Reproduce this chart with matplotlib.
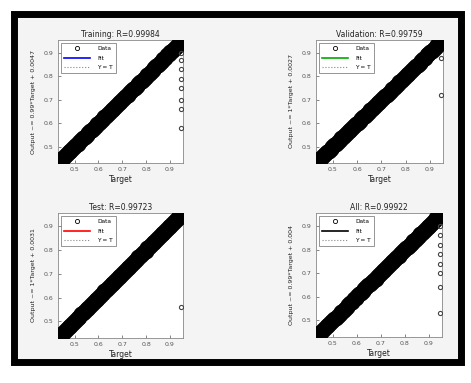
import matplotlib
matplotlib.use("Agg")
import matplotlib.pyplot as plt
from matplotlib.patches import Rectangle
from matplotlib.lines import Line2D

W, H = 471, 383
fig = plt.figure(figsize=(W/100, H/100), dpi=100)
fig.patch.set_facecolor("white")

# panel content
titles = ["Training: R=0.99984", "Validation: R=0.99759", "Test: R=0.99723", "All: R=0.99922"]
ylabels = ["Output ~= 0.99*Target + 0.0047", "Output ~= 1*Target + 0.0027",
           "Output ~= 1*Target + 0.0031", "Output ~= 0.99*Target + 0.004"]
fit_colors = ["#0000ff", "#00aa00", "#ff0000", "#000000"]
tick_vals = [0.5, 0.6, 0.7, 0.8, 0.9]
tick_labels = ["0.5", "0.6", "0.7", "0.8", "0.9"]
axis_min, axis_max = 0.43, 0.955

# diagonal data (targets and outputs)
diag_targets = [0.438, 0.445, 0.452, 0.46, 0.468, 0.475, 0.482, 0.49, 0.498, 0.505,
                0.512, 0.52, 0.528, 0.535, 0.542, 0.55, 0.558, 0.565, 0.572, 0.58,
                0.588, 0.595, 0.602, 0.61, 0.618, 0.625, 0.632, 0.64, 0.648, 0.655,
                0.662, 0.67, 0.678, 0.685, 0.692, 0.70, 0.708, 0.715, 0.722, 0.73,
                0.738, 0.745, 0.752, 0.76, 0.768, 0.775, 0.782, 0.79, 0.798, 0.805,
                0.812, 0.82, 0.828, 0.835, 0.842, 0.85, 0.858, 0.865, 0.872, 0.88,
                0.888, 0.895, 0.902, 0.91, 0.918, 0.925, 0.932, 0.94, 0.946]
diag_outputs = [0.439, 0.445, 0.453, 0.46, 0.467, 0.476, 0.482, 0.49, 0.497, 0.506,
                0.512, 0.52, 0.529, 0.535, 0.542, 0.55, 0.557, 0.566, 0.572, 0.58,
                0.589, 0.595, 0.602, 0.61, 0.617, 0.626, 0.632, 0.64, 0.649, 0.655,
                0.662, 0.67, 0.677, 0.686, 0.692, 0.70, 0.709, 0.715, 0.722, 0.73,
                0.737, 0.746, 0.752, 0.76, 0.769, 0.775, 0.782, 0.79, 0.797, 0.806,
                0.812, 0.82, 0.829, 0.835, 0.842, 0.85, 0.857, 0.866, 0.872, 0.88,
                0.889, 0.895, 0.902, 0.91, 0.917, 0.926, 0.932, 0.94, 0.946]
# outliers at right edge per panel
out_targets = [[0.945, 0.945, 0.945, 0.945, 0.945, 0.945, 0.945, 0.945],
               [0.945, 0.945],
               [0.945],
               [0.945, 0.945, 0.945, 0.945, 0.945, 0.945, 0.945, 0.945]]
out_outputs = [[0.90, 0.87, 0.83, 0.79, 0.75, 0.70, 0.66, 0.58],
               [0.88, 0.72],
               [0.56],
               [0.90, 0.86, 0.82, 0.78, 0.74, 0.70, 0.64, 0.53]]
fit_slope = [0.99, 1.0, 1.0, 0.99]
fit_icpt = [0.0047, 0.0027, 0.0031, 0.004]

# layout in pixels: left, top, right, bottom
boxes = [(58, 40, 183, 163), (316, 40, 443, 163), (58, 213, 183, 338), (316, 213, 442, 337)]

# light gray background inside the frame
fig.add_artist(Rectangle((14/W, 1 - 362/H), (461-14)/W, (362-14)/H, transform=fig.transFigure,
                         facecolor="#f4f4f4", edgecolor="none", zorder=0))

for i, (l, t, r, b) in enumerate(boxes):
    ax = fig.add_axes([l/W, 1 - b/H, (r-l)/W, (b-t)/H])
    ax.set_facecolor("white")
    ax.plot(diag_targets, diag_outputs, "o", mfc="none", mec="black", ms=8.5, mew=3, zorder=3)
    ax.plot(out_targets[i], out_outputs[i], "o", mfc="none", mec="#444444", ms=3, mew=0.8, zorder=3)
    xs = [axis_min, axis_max]
    ax.plot(xs, [fit_slope[i]*x + fit_icpt[i] for x in xs], "-", color=fit_colors[i], lw=1.5, zorder=2)
    ax.plot(xs, xs, ":", color="#888888", lw=0.8, zorder=2)
    ax.set_xlim(axis_min, axis_max)
    ax.set_ylim(axis_min, axis_max)
    ax.set_xticks(tick_vals)
    ax.set_xticklabels(tick_labels)
    ax.set_yticks(tick_vals)
    ax.set_yticklabels(tick_labels)
    ax.tick_params(labelsize=4.5, length=2, width=0.5, direction="in", colors="#555555", pad=3)
    for s in ax.spines.values():
        s.set_color("#888888")
        s.set_linewidth(0.6)
    ax.set_title(titles[i], fontsize=5.5, pad=2, color="#222222")
    ax.set_xlabel("Target", fontsize=5.5, labelpad=2, color="#222222")
    ax.set_ylabel(ylabels[i], fontsize=4.5, labelpad=6, color="#222222")
    handles = [Line2D([], [], ls="none", marker="o", mfc="none", mec="black", ms=3, mew=0.6),
               Line2D([], [], color=fit_colors[i], lw=1.2),
               Line2D([], [], color="#888888", ls=":", lw=0.8)]
    leg = ax.legend(handles, ["Data", "Fit", "Y = T"], loc="upper left", fontsize=4.2,
                    frameon=True, fancybox=False, handlelength=4.5, borderpad=0.5,
                    labelspacing=0.8, borderaxespad=0.5, handletextpad=1.2)
    leg.get_frame().set_edgecolor("#666666")
    leg.get_frame().set_linewidth(0.6)

# thick black frame
fig.add_artist(Rectangle((14/W, 1 - 362/H), (461-14)/W, (362-14)/H, transform=fig.transFigure,
                         facecolor="none", edgecolor="black", linewidth=5, zorder=10))

fig.savefig("out.png", dpi=100, facecolor=fig.get_facecolor())
